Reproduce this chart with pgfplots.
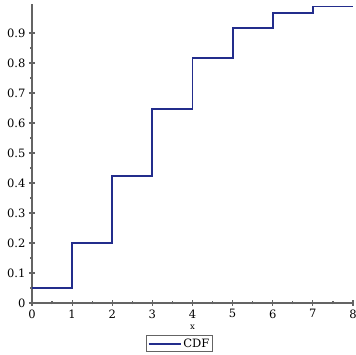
\documentclass[border=0pt]{standalone}
\usepackage{pgfplots}
\pgfplotsset{compat=1.18}
\usepackage{fontspec}
\setmainfont{DejaVu Serif}
\definecolor{cdfblue}{RGB}{35,45,140}
\definecolor{axgray}{RGB}{100,100,100}
\begin{document}
\begin{tikzpicture}
\path[use as bounding box] (-32pt,-52pt) rectangle (323pt,303pt);
\begin{axis}[
  at={(0pt,0pt)}, anchor=south west,
  scale only axis, width=321pt, height=299pt,
  xmin=0, xmax=8, ymin=0, ymax=0.9966,
  axis lines=left,
  axis line style={axgray, line width=1.8pt, -},
  xtick={0,1,...,8},
  ytick={0,0.1,...,0.9},
  minor x tick num=1, minor y tick num=1,
  every tick/.style={axgray, line width=1.2pt},
  major tick length=6pt, minor tick length=3pt,
  tick align=center,
  /pgf/number format/assume math mode=true,
  /pgf/number format/fixed,
  /pgf/number format/precision=1,
  ticklabel style={font=\fontsize{11.5}{13}\selectfont, text=black},
  xticklabel style={yshift=0pt},
  yticklabel style={xshift=0pt},
  xlabel={x},
  xlabel style={font=\fontsize{8.5}{10}\selectfont, at={(rel axis cs:0.5,0)}, anchor=north, yshift=-19pt},
  clip=false,
  legend style={at={(rel axis cs:0.4595,-0.136)}, anchor=center, draw=axgray, line width=1.2pt,
    font=\fontsize{11.5}{13}\selectfont, inner xsep=1pt, inner ysep=1pt},
  legend image code/.code={\draw[#1, line width=1.8pt] (0pt,0pt) -- (32pt,0pt);},
]
\addplot[const plot, cdfblue, line width=1.8pt] coordinates {
  (0,0.0498) (1,0.1991) (2,0.4232) (3,0.6472) (4,0.8153)
  (5,0.9161) (6,0.9665) (7,0.9881) (8,0.9881)
};
\addlegendentry{CDF}
\end{axis}
\end{tikzpicture}
\end{document}
